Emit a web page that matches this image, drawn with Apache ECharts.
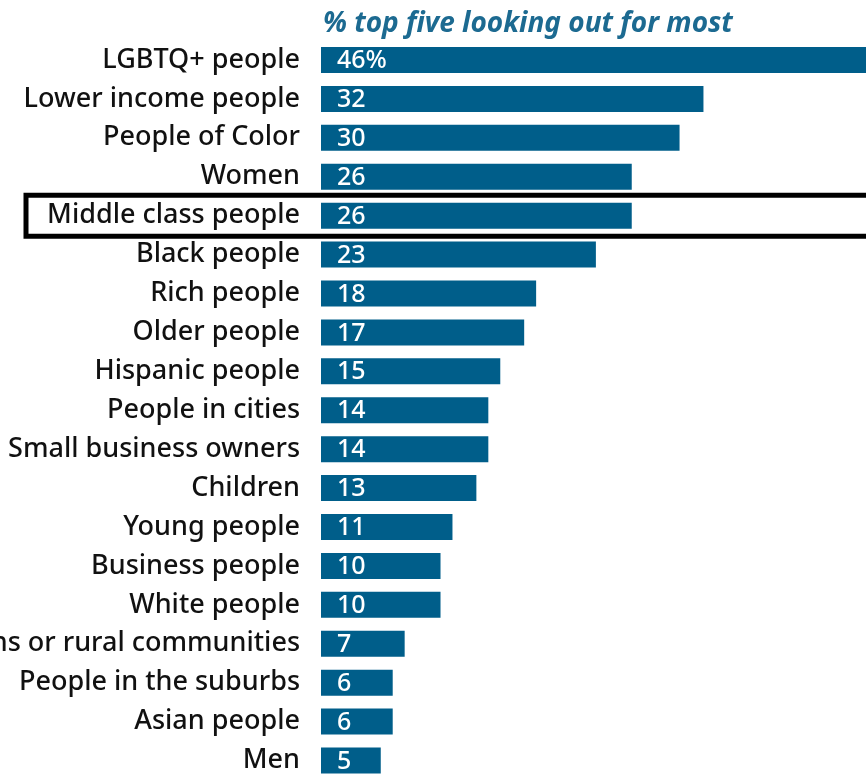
<!DOCTYPE html>
<html><head><meta charset="utf-8">
<script src="https://cdn.jsdelivr.net/npm/echarts@6/dist/echarts.min.js"></script>
<style>html,body{margin:0;padding:0;background:#fff}#c{width:866px;height:774px}</style>
</head><body><div id="c"></div>
<script>
const categories = ["LGBTQ+ people","Lower income people","People of Color","Women","Middle class people","Black people","Rich people","Older people","Hispanic people","People in cities","Small business owners","Children","Young people","Business people","White people","Small towns or rural communities","People in the suburbs","Asian people","Men"];
const values = [46,32,30,26,26,23,18,17,15,14,14,13,11,10,10,7,6,6,5];
const titleText = "% top five looking out for most";
const highlighted = "Middle class people";

const chart = echarts.init(document.getElementById('c'));
const FONT = 'Noto Sans';
chart.setOption({
  animation: false,
  title: {
    text: titleText, left: 318, top: 5,
    textStyle: {fontFamily: FONT, fontSize: 28, fontWeight: 'bold', fontStyle: 'italic', color: '#1c6a91'}
  },
  grid: {left: 321, right: 0, top: 40.5, bottom: -6, containLabel: false, outerBoundsMode: 'none'},
  xAxis: {type: 'value', min: 0, max: 45.6, show: false},
  yAxis: {
    type: 'category', data: categories, inverse: true,
    axisLine: {show: false}, axisTick: {show: false},
    axisLabel: {margin: 21, fontFamily: FONT, fontSize: 27, fontWeight: 500, color: '#111', padding: [4, 0, 0, 0]}
  },
  series: [{
    type: 'bar', data: values, barWidth: 26,
    itemStyle: {color: '#005e8a'},
    label: {
      show: true, position: 'insideLeft', distance: 16, offset: [0, 1],
      fontFamily: FONT, fontSize: 25, fontWeight: 500, color: '#fff',
      formatter: p => p.dataIndex === 0 ? p.value + '%' : String(p.value)
    }
  }]
});
const yc = chart.convertToPixel({yAxisIndex: 0}, highlighted);
chart.setOption({
  graphic: [{
    type: 'rect', shape: {x: 26, y: yc - 20.5, width: 850, height: 41},
    style: {fill: 'none', stroke: '#000', lineWidth: 5}
  }]
});
</script></body></html>
